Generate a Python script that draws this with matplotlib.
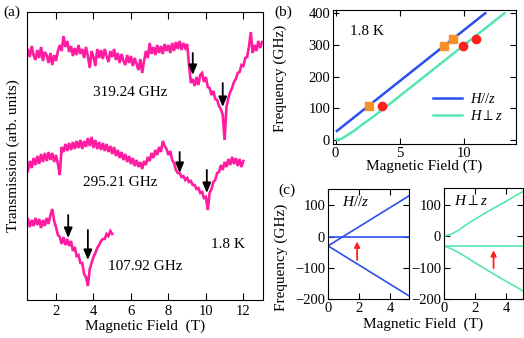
import numpy as np
import matplotlib
matplotlib.use("Agg")
import matplotlib.pyplot as plt

plt.rcParams["font.family"] = ["Liberation Serif", "DejaVu Serif"]
plt.rcParams["mathtext.fontset"] = "custom"
plt.rcParams["mathtext.rm"] = "Liberation Serif"
plt.rcParams["mathtext.it"] = "Liberation Serif:italic"
plt.rcParams["font.size"] = 10

PINK = "#ff1ca0"
BLUE = "#2b4ff0"
GREEN = "#55e6b0"
ORANGE = "#f5902a"
RED = "#ff1f1f"

# ---- (a) transmission traces (arb. units), sampled every 0.1 T ----
field_319 = np.linspace(0.5, 13.0, 126)
trans_319 = [250, 243, 254, 245, 240, 250, 242, 253, 239, 248,
             245, 237, 247, 235, 245, 239, 249, 255, 249, 264,
             253, 259, 248, 254, 244, 252, 245, 255, 246, 251,
             242, 253, 244, 232, 249, 243, 234, 251, 242, 250,
             241, 251, 244, 238, 249, 243, 251, 240, 247, 237,
             246, 239, 235, 245, 237, 244, 234, 242, 236, 230,
             241, 227, 239, 249, 242, 257, 246, 253, 245, 255,
             247, 254, 246, 256, 249, 255, 247, 257, 249, 258,
             251, 259, 250, 257, 252, 256, 235, 217, 221, 214,
             223, 215, 225, 227, 218, 223, 213, 212, 205, 209,
             201, 200, 194, 191, 185, 160, 193, 202, 208, 212,
             218, 221, 227, 228, 235, 234, 242, 243, 253, 268,
             247, 255, 249, 259, 252, 258]

field_295 = np.linspace(0.5, 12.0, 116)
trans_295 = [129, 139, 132, 142, 135, 144, 136, 146, 138, 147,
             139, 148, 140, 147, 138, 145, 136, 125, 153, 148,
             156, 149, 157, 150, 158, 151, 159, 152, 160, 151,
             159, 153, 162, 154, 163, 152, 160, 151, 158, 150,
             157, 149, 156, 148, 154, 146, 153, 144, 150, 142,
             148, 140, 146, 138, 144, 136, 142, 134, 140, 133,
             138, 131, 139, 135, 143, 139, 147, 142, 150, 145,
             153, 148, 159, 154, 151, 145, 149, 140, 137, 130,
             127, 127, 123, 124, 120, 122, 118, 119, 115, 115,
             111, 112, 107, 108, 102, 103, 90, 107, 111, 118,
             120, 127, 128, 135, 130, 138, 133, 141, 135, 143,
             136, 142, 134, 141, 133, 139]

field_108 = np.linspace(0.5, 5.0, 46)
trans_108 = [81, 73, 80, 74, 82, 75, 81, 72, 80, 74,
             82, 76, 85, 91, 79, 73, 65, 63, 56, 63,
             55, 61, 54, 59, 49, 53, 44, 45, 37, 37,
             26, 23, 14, 31, 37, 43, 47, 52, 55, 59,
             61, 61, 66, 64, 69, 66]

# resonance arrows: (field, tail, tip)
arrows_a = [(9.3, 247, 225), (10.9, 217, 193),
            (8.6, 148, 127), (10.05, 130, 107),
            (2.65, 85, 62), (3.7, 70, 40)]

# ---- (b) frequency-field diagram ----
sq_field = [2.6, 8.5, 9.15]
sq_freq = [107, 297, 319]
ci_field = [3.6, 9.95, 10.97]
ci_freq = [107, 295, 319]
par_field = [0.1, 11.7]
par_freq = [28, 400]
perp_field = [0.1, 0.5, 1.0, 1.5, 2.0, 3.0, 4.0, 6.0, 9.0, 13.2]
perp_freq = [0, 4, 17, 30, 46, 75, 106, 170, 266, 400]

# ---- (c) energy levels ----
lev_par_field = [0, 5.2]
lev_par = [[0, 0], [-30, 130], [-30, -190]]
lev_perp_field = [0, 0.5, 1.0, 1.5, 2.0, 2.7, 3.0, 4.0, 5.1]
lev_perp_up = [0, 8, 22, 40, 55, 76, 85, 112, 144]
lev_perp_mid = [-30] * 9
lev_perp_low = [-30, -40, -53, -68, -84, -105, -114, -143, -174]

fig = plt.figure(figsize=(5.24, 3.38), dpi=100)

# (a)
ax = fig.add_axes([27 / 524, 38 / 338, 236 / 524, 288 / 338])
for fx, ty in [(field_319, trans_319), (field_295, trans_295), (field_108, trans_108)]:
    ax.plot(fx, ty, color=PINK, lw=1.9, solid_joinstyle="miter")
for f, y0, y1 in arrows_a:
    ax.annotate("", xy=(f, y1), xytext=(f, y0),
                arrowprops=dict(arrowstyle="-|>,head_length=0.6,head_width=0.25",
                                color="k", lw=1.3, mutation_scale=10,
                                shrinkA=0, shrinkB=0))
ax.text(5.94, 208, "319.24 GHz", ha="center", va="center", fontsize=11)
ax.text(5.4, 118, "295.21 GHz", ha="center", va="center", fontsize=11)
ax.text(6.74, 33, "107.92 GHz", ha="center", va="center", fontsize=11)
ax.text(11.17, 55, "1.8 K", ha="center", va="center", fontsize=11)
ax.set_xlim(0.45, 13.05)
ax.set_ylim(0, 288)
ax.set_xticks([2, 4, 6, 8, 10, 12])
ax.set_yticks([])
ax.tick_params(direction="in", top=True, length=5, labelsize=10.5)
ax.set_xlabel("Magnetic Field  (T)", fontsize=11, labelpad=1)
ax.set_ylabel("Transmission (arb. units)", fontsize=11, labelpad=5)
fig.text(12 / 524, 1 - 12 / 338, "(a)", ha="center", va="center", fontsize=11)

# (b)
axb = fig.add_axes([333 / 524, 194 / 338, 183 / 524, 134 / 338])
axb.plot(par_field, par_freq, color=BLUE, lw=1.8, label="$H//z$")
axb.plot(perp_field, perp_freq, color=GREEN, lw=1.8, label="$H\\perp z$")
axb.plot(sq_field, sq_freq, "s", color=ORANGE, ms=6)
axb.plot(ci_field, ci_freq, "o", color=RED, ms=6)
axb.text(1.1, 342, "1.8 K", ha="left", va="center", fontsize=11)
axb.set_xlim(-0.2, 14.1)
axb.set_ylim(-13, 410)
axb.set_xticks([0, 5, 10])
axb.set_yticks([0, 100, 200, 300, 400])
axb.tick_params(direction="in", top=True, right=True, length=4, labelsize=10.5, pad=2)
axb.set_xlabel("Magnetic Field (T)", fontsize=11, labelpad=0)
axb.set_ylabel("Frequency (GHz)", fontsize=11)
axb.yaxis.set_label_coords(-0.25, 0.49)
axb.legend(loc="lower right", frameon=False, fontsize=10.5, handlelength=2.0,
           borderaxespad=0.3, labelspacing=0.2, handletextpad=0.5,
           bbox_to_anchor=(0.98, 0.08))
fig.text(283 / 524, 1 - 12 / 338, "(b)", ha="center", va="center", fontsize=11)

# (c) left
axc1 = fig.add_axes([328 / 524, 39 / 338, 81 / 524, 110 / 338])
for lev in lev_par:
    axc1.plot(lev_par_field, lev, color=BLUE, lw=1.2)
axc1.annotate("", xy=(1.87, -16), xytext=(1.87, -75),
              arrowprops=dict(arrowstyle="-|>", color=RED, lw=1.3,
                              mutation_scale=8, shrinkA=0, shrinkB=0))
axc1.text(1.75, 110, "$H//z$", ha="center", va="center", fontsize=11)
axc1.set_xlim(0, 5.2)
axc1.set_ylim(-200, 152)
axc1.set_xticks([0, 2, 4])
axc1.set_yticks([-200, -100, 0, 100])
axc1.tick_params(direction="in", top=True, right=True, length=4, labelsize=10.5, pad=2)
axc1.set_ylabel("Frequency (GHz)", fontsize=11)
axc1.yaxis.set_label_coords(-0.50, 0.38)

# (c) right
axc2 = fig.add_axes([444 / 524, 39 / 338, 79 / 524, 111 / 338])
axc2.plot(lev_perp_field, lev_perp_up, color=GREEN, lw=1.2)
axc2.plot(lev_perp_field, lev_perp_mid, color=GREEN, lw=1.2)
axc2.plot(lev_perp_field, lev_perp_low, color=GREEN, lw=1.2)
axc2.annotate("", xy=(3.2, -44), xytext=(3.2, -101),
              arrowprops=dict(arrowstyle="-|>", color=RED, lw=1.3,
                              mutation_scale=8, shrinkA=0, shrinkB=0))
axc2.text(1.75, 112, "$H\\perp z$", ha="center", va="center", fontsize=11)
axc2.set_xlim(0, 5.1)
axc2.set_ylim(-200, 155)
axc2.set_xticks([0, 2, 4])
axc2.set_yticks([-200, -100, 0, 100])
axc2.tick_params(direction="in", top=True, right=True, length=4, labelsize=10.5, pad=2)
fig.text(423 / 524, 1 - 324 / 338, "Magnetic Field  (T)", ha="center", va="center", fontsize=11)
fig.text(287 / 524, 1 - 190 / 338, "(c)", ha="center", va="center", fontsize=11)

fig.savefig("out.png", dpi=100)
